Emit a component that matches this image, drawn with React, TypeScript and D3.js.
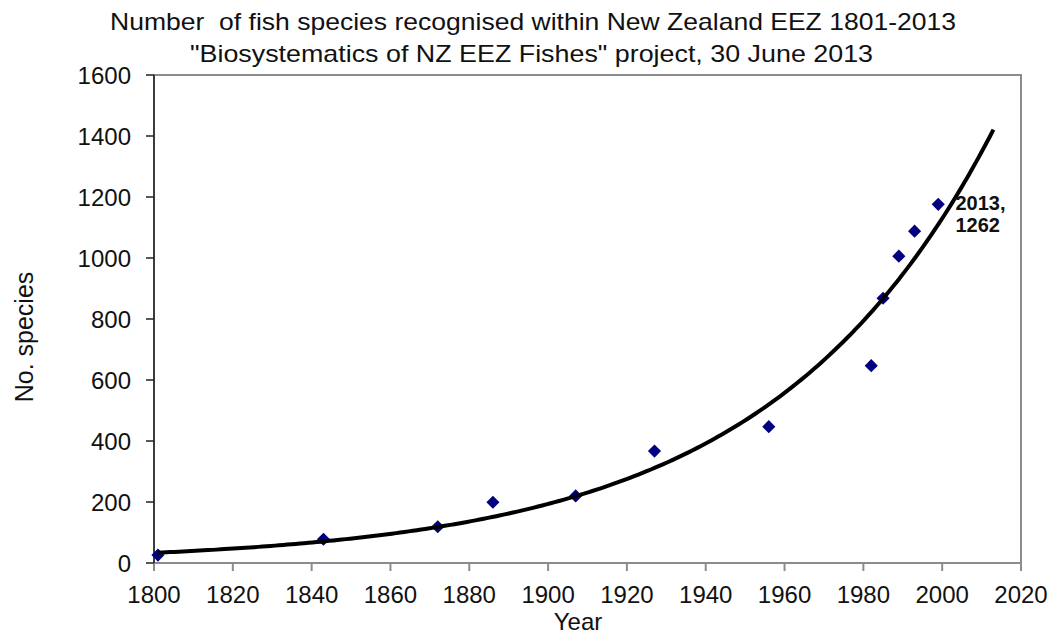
import React from "react";
import * as d3 from "d3";

// Data
const years = [1801, 1843, 1872, 1886, 1907, 1927, 1956, 1982, 1985, 1989, 1993, 1999, 2013];
const species = [26, 78, 119, 199, 220, 367, 447, 647, 868, 1006, 1088, 1176, 1262];
// the last point (2013) carries a data label but no visible marker
const markerVisible = [true, true, true, true, true, true, true, true, true, true, true, true, false];
const xTicks = [1800, 1820, 1840, 1860, 1880, 1900, 1920, 1940, 1960, 1980, 2000, 2020];
const yTicks = [0, 200, 400, 600, 800, 1000, 1200, 1400, 1600];
const titleLines = [
  "Number  of fish species recognised within New Zealand EEZ 1801-2013",
  "\"Biosystematics of NZ EEZ Fishes\" project, 30 June 2013",
];
const labelLines = ["2013,", "1262"];

const W = 1052;
const H = 634;
const M = { left: 154, right: 1021, top: 75, bottom: 563 };
const FONT = "'Liberation Sans', Arial, sans-serif";

export default function App() {
  const x = d3.scaleLinear().domain([1800, 2020]).range([M.left, M.right]);
  const y = d3.scaleLinear().domain([0, 1600]).range([M.bottom, M.top]);

  // Exponential trendline (least squares on ln(y)), as Excel does
  const n = years.length;
  const ly = species.map((v) => Math.log(v));
  const mx = d3.mean(years) as number;
  const my = d3.mean(ly) as number;
  let sxy = 0;
  let sxx = 0;
  for (let i = 0; i < n; i++) {
    sxy += (years[i] - mx) * (ly[i] - my);
    sxx += (years[i] - mx) * (years[i] - mx);
  }
  const b = sxy / sxx;
  const a = my - b * mx;
  const [x0, x1] = d3.extent(years) as [number, number];
  const trend: [number, number][] = d3
    .range(0, 201)
    .map((i) => x0 + ((x1 - x0) * i) / 200)
    .map((t) => [t, Math.exp(a + b * t)]);
  const line = d3
    .line<[number, number]>()
    .x((d) => x(d[0]))
    .y((d) => y(d[1]));

  const diamond = d3.symbol().type(d3.symbolDiamond2).size(110)();

  const lastI = years.length - 1;
  const lblX = x(years[lastI]) - 38;
  const lblY = y(species[lastI]);

  return (
    <svg
      width={W}
      height={H}
      style={{ position: "absolute", left: 0, top: 0, background: "#fff" }}
      fontFamily={FONT}
    >
      <rect x={0} y={0} width={W} height={H} fill="#fff" />
      {/* title */}
      <text
        x={110}
        y={30}
        fontSize={24}
        fill="#111"
        textLength={846}
        lengthAdjust="spacingAndGlyphs"
        style={{ whiteSpace: "pre" }}
      >
        {titleLines[0]}
      </text>
      <text
        x={190}
        y={62}
        fontSize={24}
        fill="#111"
        textLength={683}
        lengthAdjust="spacingAndGlyphs"
        style={{ whiteSpace: "pre" }}
      >
        {titleLines[1]}
      </text>

      {/* plot frame */}
      <rect
        x={M.left}
        y={M.top}
        width={M.right - M.left}
        height={M.bottom - M.top}
        fill="none"
        stroke="#8c8c8c"
        strokeWidth={2}
      />
      {/* x ticks */}
      {xTicks.map((t) => (
        <g key={"x" + t}>
          <line x1={x(t)} x2={x(t)} y1={M.bottom} y2={M.bottom + 8} stroke="#8c8c8c" strokeWidth={2} />
          <text x={x(t)} y={603} textAnchor="middle" fontSize={24} fill="#111">
            {t}
          </text>
        </g>
      ))}
      {/* y axis */}
      <line x1={M.left} x2={M.left} y1={M.top} y2={M.bottom} stroke="#222" strokeWidth={1.5} />
      {yTicks.map((t) => (
        <g key={"y" + t}>
          <line x1={M.left - 8} x2={M.left} y1={y(t)} y2={y(t)} stroke="#222" strokeWidth={1.5} />
          <text x={131} y={y(t)} dy="0.36em" textAnchor="end" fontSize={24} fill="#111">
            {t}
          </text>
        </g>
      ))}

      {/* axis titles */}
      <text x={578} y={630} textAnchor="middle" fontSize={24} fill="#111">
        Year
      </text>
      <text
        transform={`translate(33, 337) rotate(-90)`}
        textAnchor="middle"
        fontSize={25}
        fill="#111"
      >
        No. species
      </text>

      {/* markers */}
      {years.map((yr, i) =>
        markerVisible[i] ? (
          <path
            key={"p" + yr}
            d={diamond as string}
            transform={`translate(${x(yr)},${y(species[i])})`}
            fill="#000080"
          />
        ) : null
      )}

      {/* trendline */}
      <path d={line(trend) as string} fill="none" stroke="#000" strokeWidth={4} />

      {/* data label */}
      <text x={lblX} y={lblY + 32} fontSize={20} fontWeight="bold" fill="#111">
        {labelLines[0]}
      </text>
      <text x={lblX} y={lblY + 54} fontSize={20} fontWeight="bold" fill="#111">
        {labelLines[1]}
      </text>
    </svg>
  );
}
